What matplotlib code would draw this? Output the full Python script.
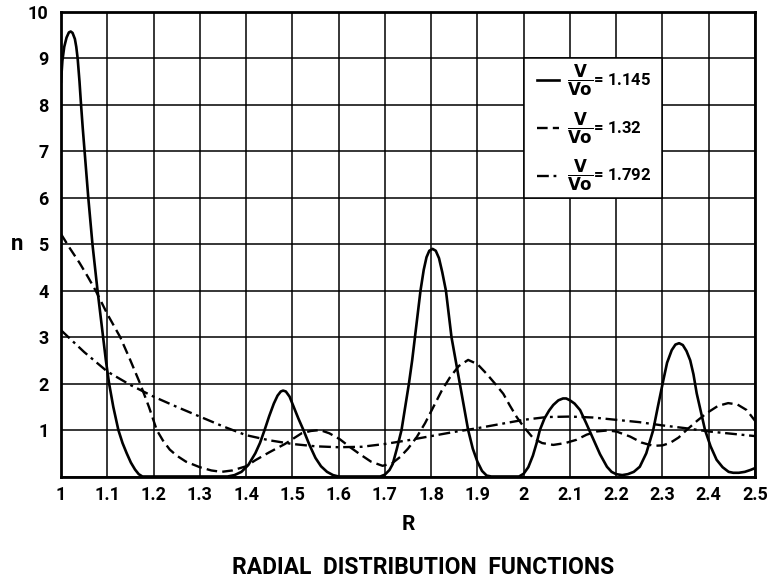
import matplotlib
matplotlib.use("Agg")
import matplotlib.pyplot as plt
from matplotlib.patches import Rectangle

plt.rcParams['font.family'] = ['Roboto', 'DejaVu Sans']
plt.rcParams['font.weight'] = 'bold'
plt.rcParams['mathtext.fontset'] = 'dejavusans'

# V/Vo = 1.145 (solid)
r_1145 = [1.0, 1.003, 1.007, 1.012, 1.017, 1.021, 1.025, 1.03, 1.033, 1.036,
          1.04, 1.043, 1.047, 1.051, 1.055, 1.059, 1.0635, 1.068, 1.0735, 1.079,
          1.085, 1.091, 1.097, 1.104, 1.113, 1.124, 1.133, 1.142, 1.151, 1.16,
          1.168, 1.176, 1.25, 1.36, 1.375, 1.39, 1.405, 1.42, 1.43, 1.44,
          1.45, 1.46, 1.468, 1.475, 1.48, 1.486, 1.494, 1.503, 1.513, 1.524,
          1.537, 1.55, 1.562, 1.575, 1.588, 1.6, 1.69, 1.7, 1.71, 1.717,
          1.726, 1.736, 1.744, 1.752, 1.759, 1.765, 1.771, 1.777, 1.784, 1.79,
          1.796, 1.803, 1.81, 1.817, 1.824, 1.832, 1.838, 1.844, 1.853, 1.862,
          1.871, 1.88, 1.89, 1.9, 1.91, 1.92, 1.93, 1.99, 2.0, 2.01,
          2.02, 2.028, 2.035, 2.045, 2.055, 2.064, 2.075, 2.085, 2.092, 2.1,
          2.11, 2.122, 2.135, 2.151, 2.165, 2.18, 2.19, 2.2, 2.213, 2.225,
          2.238, 2.251, 2.265, 2.28, 2.29, 2.302, 2.31, 2.32, 2.328, 2.336,
          2.344, 2.352, 2.36, 2.367, 2.374, 2.383, 2.392, 2.404, 2.417, 2.43,
          2.443, 2.453, 2.465, 2.478, 2.49, 2.5]
n_1145 = [8.5, 8.95, 9.25, 9.45, 9.56, 9.58, 9.55, 9.42, 9.25, 9.0,
          8.5, 8.05, 7.5, 7.0, 6.5, 6.0, 5.5, 5.0, 4.5, 4.0,
          3.5, 3.0, 2.5, 2.0, 1.5, 1.0, 0.72, 0.5, 0.3, 0.15,
          0.05, 0.0, 0.0, 0.0, 0.03, 0.1, 0.25, 0.5, 0.72, 1.0,
          1.3, 1.57, 1.74, 1.83, 1.85, 1.83, 1.72, 1.5, 1.25, 1.0,
          0.68, 0.4, 0.22, 0.1, 0.03, 0.0, 0.0, 0.04, 0.14, 0.27,
          0.6, 1.0, 1.5, 2.0, 2.5, 3.0, 3.5, 4.0, 4.45, 4.72,
          4.86, 4.9, 4.86, 4.7, 4.4, 4.0, 3.5, 3.0, 2.5, 2.0,
          1.5, 1.0, 0.6, 0.32, 0.12, 0.02, 0.0, 0.0, 0.06, 0.2,
          0.45, 0.72, 1.0, 1.25, 1.42, 1.54, 1.64, 1.68, 1.68, 1.64,
          1.57, 1.43, 1.15, 0.79, 0.48, 0.21, 0.1, 0.05, 0.03, 0.05,
          0.1, 0.21, 0.5, 1.0, 1.5, 2.08, 2.45, 2.72, 2.84, 2.87,
          2.83, 2.7, 2.5, 2.2, 1.79, 1.4, 1.0, 0.65, 0.36, 0.2,
          0.1, 0.08, 0.08, 0.1, 0.14, 0.18]

# V/Vo = 1.32 (dashed)
r_132 = [1.0, 1.02, 1.04, 1.058, 1.075, 1.1, 1.128, 1.15, 1.171, 1.19,
         1.207, 1.22, 1.235, 1.25, 1.27, 1.3, 1.325, 1.347, 1.37, 1.4,
         1.42, 1.45, 1.484, 1.52, 1.54, 1.56, 1.58, 1.603, 1.625, 1.646,
         1.67, 1.695, 1.715, 1.733, 1.75, 1.769, 1.787, 1.805, 1.823, 1.841,
         1.86, 1.88, 1.9, 1.92, 1.938, 1.956, 1.97, 1.985, 2.0, 2.021,
         2.04, 2.064, 2.09, 2.114, 2.136, 2.158, 2.18, 2.2, 2.23, 2.255,
         2.28, 2.3, 2.316, 2.335, 2.352, 2.375, 2.395, 2.42, 2.442, 2.462,
         2.482, 2.5]
n_132 = [5.22, 4.9, 4.6, 4.3, 4.0, 3.5, 3.0, 2.5, 2.0, 1.5,
         1.0, 0.78, 0.58, 0.45, 0.32, 0.2, 0.13, 0.1, 0.13, 0.22,
         0.35, 0.52, 0.7, 0.93, 0.98, 1.0, 0.93, 0.8, 0.63, 0.48,
         0.32, 0.23, 0.28, 0.42, 0.6, 0.85, 1.15, 1.5, 1.85, 2.14,
         2.38, 2.51, 2.42, 2.21, 2.0, 1.78, 1.53, 1.28, 1.07, 0.82,
         0.72, 0.68, 0.72, 0.79, 0.9, 0.97, 0.99, 0.97, 0.86, 0.73,
         0.66, 0.67, 0.72, 0.84, 1.0, 1.2, 1.36, 1.52, 1.58, 1.55,
         1.43, 1.2]

# V/Vo = 1.792 (dash-dot)
r_1792 = [1.0, 1.05, 1.1, 1.15, 1.2, 1.25, 1.3, 1.35, 1.4, 1.45,
          1.5, 1.55, 1.6, 1.65, 1.7, 1.75, 1.8, 1.85, 1.9, 1.95,
          2.0, 2.05, 2.1, 2.15, 2.2, 2.25, 2.3, 2.35, 2.4, 2.45, 2.5]
n_1792 = [3.15, 2.68, 2.26, 1.97, 1.72, 1.5, 1.29, 1.08, 0.89, 0.78,
          0.7, 0.65, 0.63, 0.64, 0.7, 0.78, 0.87, 0.96, 1.04, 1.13,
          1.22, 1.28, 1.29, 1.27, 1.22, 1.17, 1.1, 1.04, 0.97, 0.92, 0.87]

x_ticks = [1.0, 1.1, 1.2, 1.3, 1.4, 1.5, 1.6, 1.7, 1.8, 1.9, 2.0, 2.1, 2.2, 2.3, 2.4, 2.5]
x_labels = ['1', '1.1', '1.2', '1.3', '1.4', '1.5', '1.6', '1.7', '1.8', '1.9',
            '2', '2.1', '2.2', '2.3', '2.4', '2.5']
y_ticks = [0, 1, 2, 3, 4, 5, 6, 7, 8, 9, 10]
y_labels = ['', '1', '2', '3', '4', '5', '6', '7', '8', '9', '10']
legend_labels = [r'$\dfrac{\mathbf{V}}{\mathbf{Vo}}$= 1.145',
                 r'$\dfrac{\mathbf{V}}{\mathbf{Vo}}$= 1.32',
                 r'$\dfrac{\mathbf{V}}{\mathbf{Vo}}$= 1.792']

fig = plt.figure(figsize=(7.72, 5.80), dpi=100)
ax = fig.add_axes([61 / 772, 1 - 476.5 / 580, 694 / 772, 464.5 / 580])

l1, = ax.plot(r_1145, n_1145, color='black', lw=1.9, solid_joinstyle='round', zorder=3)
l2, = ax.plot(r_132, n_132, color='black', lw=1.7, dashes=(4.5, 2.2), zorder=3)
l3, = ax.plot(r_1792, n_1792, color='black', lw=1.7, dashes=(5, 2, 1.2, 2), zorder=3)

ax.set_xlim(1.0, 2.5)
ax.set_ylim(0, 10)
ax.set_xticks(x_ticks)
ax.set_xticklabels(x_labels, fontweight='bold')
ax.set_yticks(y_ticks)
ax.set_yticklabels(y_labels, fontweight='bold')
ax.tick_params(length=0, labelsize=13)
ax.tick_params(axis='x', pad=7)
ax.tick_params(axis='y', pad=9)
ax.grid(True, color='black', lw=1.1)
for s in ax.spines.values():
    s.set_linewidth(2.0)

# white box over the grid cells behind the legend
ax.add_patch(Rectangle((2.0, 6.0), 0.3, 3.0, facecolor='white', edgecolor='black',
                       lw=1.1, zorder=2))
ax.legend([l1, l2, l3], legend_labels, loc='center left', bbox_to_anchor=(2.0, 7.5),
          bbox_transform=ax.transData, frameon=False,
          prop={'size': 12, 'weight': 'bold'},
          handlelength=1.3, handletextpad=0.5, labelspacing=0.75, borderpad=0.3)

ax.set_ylabel('n', rotation=0, fontsize=16, va='center', fontweight='bold')
ax.yaxis.set_label_coords(-0.063, 0.5)
ax.set_xlabel('R', fontsize=15, labelpad=8, fontweight='bold')
fig.text(423 / 772, 1 - 567 / 580, 'RADIAL  DISTRIBUTION  FUNCTIONS',
         ha='center', va='center', fontsize=16.5, fontweight='bold')

fig.savefig('out.png', dpi=100)
